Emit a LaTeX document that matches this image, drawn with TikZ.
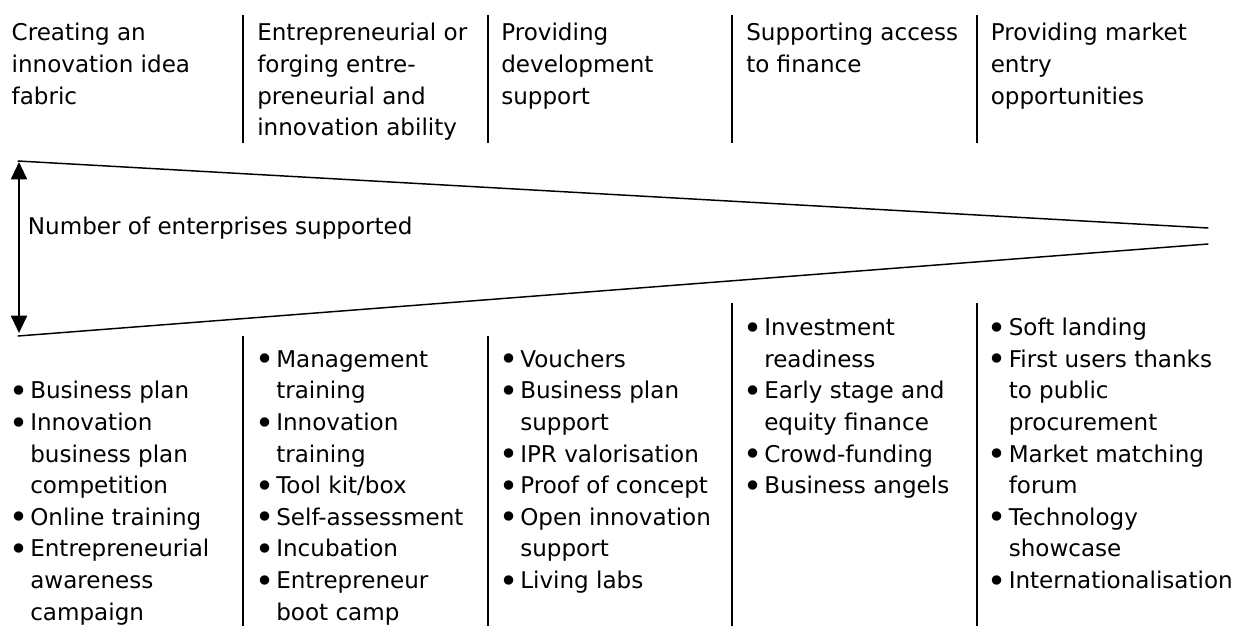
\documentclass[tikz,border=0pt]{standalone}
\usepackage{fontspec}
\setmainfont{DejaVu Sans}
\usetikzlibrary{arrows.meta}
\newdimen\px \px=0.75pt
\newcommand\bul{\makebox[17.5\px][l]{\hspace*{-0.15em}\raisebox{-0.16em}{\scalebox{1.4}{•}}}}
\newcommand\cont{\hspace*{17.5\px}}
\tikzset{
  txt/.style={anchor=north west, inner sep=0pt, align=left, font=\fontsize{17.3}{23.7}\selectfont},
  lbl/.style={anchor=base west, inner sep=0pt, font=\fontsize{17.3}{23.7}\selectfont},
  divider/.style={line width=1.5pt},
  funnel/.style={line width=1.1pt, line cap=round},
  dblarrow/.style={line width=1.5pt, {Triangle[length=13pt,width=12pt]}-{Triangle[length=13pt,width=12pt]}}
}
\begin{document}
\begin{tikzpicture}[x=0.75pt,y=-0.75pt]
\useasboundingbox (0,0) rectangle (1239,626);

% header texts
\node[txt] (h1) at (11.4,18.6) {\strut Creating an\\innovation idea\\fabric};
\node[txt] (h2) at (257,18.6) {\strut Entrepreneurial or\\forging entre-\\preneurial and\\innovation ability};
\node[txt] (h3) at (501,18.6) {\strut Providing\\development\\support};
\node[txt] (h4) at (746,18.6) {\strut Supporting access\\to finance};
\node[txt] (h5) at (990.5,18.6) {\strut Providing market\\entry\\opportunities};

% header dividers
\coordinate (d1t) at (243,15);  \coordinate (d1b) at (243,143);
\coordinate (d2t) at (488,15);  \coordinate (d2b) at (488,143);
\coordinate (d3t) at (732,15);  \coordinate (d3b) at (732,143);
\coordinate (d4t) at (977,15);  \coordinate (d4b) at (977,143);
\draw[divider] (d1t) -- (d1b);
\draw[divider] (d2t) -- (d2b);
\draw[divider] (d3t) -- (d3b);
\draw[divider] (d4t) -- (d4b);

% funnel
\coordinate (ftl) at (18,161);
\coordinate (fbl) at (18,336);
\coordinate (ftr) at (1208,228);
\coordinate (fbr) at (1208,244);
\draw[funnel] (ftl) -- (ftr);
\draw[funnel] (fbl) -- (fbr);

% double arrow
\coordinate (at) at (19,162);
\coordinate (ab) at (19,333);
\draw[dblarrow] (at) -- (ab);

\node[lbl] (num) at (27.7,234.3) {Number of enterprises supported};

% lower dividers
\coordinate (e1t) at (243,336);  \coordinate (e1b) at (243,626);
\coordinate (e2t) at (488,336);  \coordinate (e2b) at (488,626);
\coordinate (e3t) at (732,303);  \coordinate (e3b) at (732,626);
\coordinate (e4t) at (977,303);  \coordinate (e4b) at (977,626);
\draw[divider] (e1t) -- (e1b);
\draw[divider] (e2t) -- (e2b);
\draw[divider] (e3t) -- (e3b);
\draw[divider] (e4t) -- (e4b);

% lists
\node[txt] (l1) at (12.5,376.5) {\strut\bul Business plan\\\bul Innovation\\\cont business plan\\\cont competition\\\bul Online training\\\bul Entrepreneurial\\\cont awareness\\\cont campaign};
\node[txt] (l2) at (258.5,344.9) {\strut\bul Management\\\cont training\\\bul Innovation\\\cont training\\\bul Tool kit/box\\\bul Self-assessment\\\bul Incubation\\\bul Entrepreneur\\\cont boot camp};
\node[txt] (l3) at (502.5,344.9) {\strut\bul Vouchers\\\bul Business plan\\\cont support\\\bul IPR valorisation\\\bul Proof of concept\\\bul Open innovation\\\cont support\\\bul Living labs};
\node[txt] (l4) at (746.5,313.3) {\strut\bul Investment\\\cont readiness\\\bul Early stage and\\\cont equity finance\\\bul Crowd-funding\\\bul Business angels};
\node[txt] (l5) at (991,313.3) {\strut\bul Soft landing\\\bul First users thanks\\\cont to public\\\cont procurement\\\bul Market matching\\\cont forum\\\bul Technology\\\cont showcase\\\bul Internationalisation};
\end{tikzpicture}
\end{document}
